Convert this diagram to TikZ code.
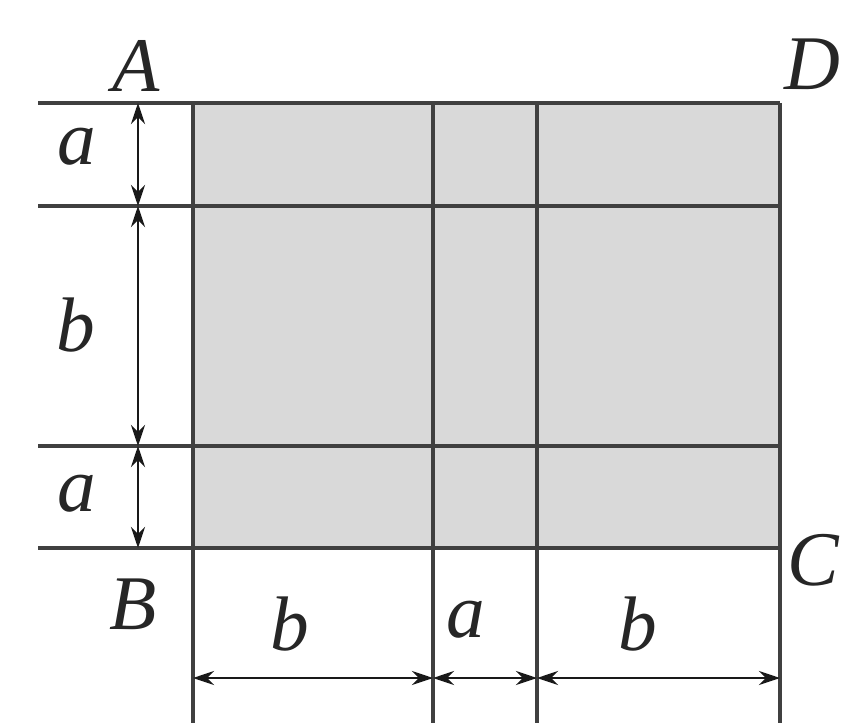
\documentclass[tikz,border=0pt]{standalone}
\usepackage{fontspec}
\setmainfont{Liberation Serif}
\usetikzlibrary{positioning, arrows.meta}

\begin{document}
\begin{tikzpicture}[x=0.02cm, y=-0.02cm,
    grid/.style={line width=2.2pt, draw=black!75},
    dim/.style={line width=1.6pt, draw=black!90, {Stealth[length=12pt,width=8pt]}-{Stealth[length=12pt,width=8pt]}},
    lbl/.style={font=\fontsize{44}{48}\selectfont\itshape, inner sep=0pt, text=black!85},
]
\useasboundingbox (0,0) rectangle (842,723);

% Points of the frame
\coordinate (A) at (138,103);
\coordinate (B) at (138,548);
\coordinate (C) at (780,548);
\coordinate (D) at (780,103);

% Shaded area
\fill[black!15] (193,103) rectangle (C);

% Horizontal lines
\coordinate (h1l) at (38,103);  \coordinate (h1r) at (780,103);
\coordinate (h2l) at (38,206);  \coordinate (h2r) at (780,206);
\coordinate (h3l) at (38,446);  \coordinate (h3r) at (780,446);
\coordinate (h4l) at (38,548);  \coordinate (h4r) at (780,548);
\draw[grid] (h1l) -- (h1r);
\draw[grid] (h2l) -- (h2r);
\draw[grid] (h3l) -- (h3r);
\draw[grid] (h4l) -- (h4r);

% Vertical lines
\coordinate (v1t) at (193,103);  \coordinate (v1b) at (193,723);
\coordinate (v2t) at (433,103);  \coordinate (v2b) at (433,723);
\coordinate (v3t) at (537,103);  \coordinate (v3b) at (537,723);
\coordinate (v4t) at (780,103);  \coordinate (v4b) at (780,723);
\draw[grid] (v1t) -- (v1b);
\draw[grid] (v2t) -- (v2b);
\draw[grid] (v3t) -- (v3b);
\draw[grid] (v4t) -- (v4b);

% Dimension marks, left side
\coordinate (m2) at (138,206);
\coordinate (m3) at (138,446);
\draw[dim] (A) -- (m2);
\draw[dim] (m2) -- (m3);
\draw[dim] (m3) -- (B);

% Dimension marks, bottom
\coordinate (d1) at (193,678);
\coordinate (d2) at (433,678);
\coordinate (d3) at (537,678);
\coordinate (d4) at (780,678);
\draw[dim] (d1) -- (d2);
\draw[dim] (d2) -- (d3);
\draw[dim] (d3) -- (d4);

% Labels
\node[lbl] (lA) at (136,66) {A};
\node[lbl] (lD) at (812,64) {D};
\node[lbl] (lB) at (133,604) {B};
\node[lbl] (lC) at (813,560) {C};
\node[lbl] (la1) at (77,147) {a};
\node[lbl] (lb1) at (76,325) {b};
\node[lbl] (la2) at (77,494) {a};
\node[lbl] (lb2) at (290,624) {b};
\node[lbl] (la3) at (466,620) {a};
\node[lbl] (lb3) at (638,624) {b};
\end{tikzpicture}
\end{document}
